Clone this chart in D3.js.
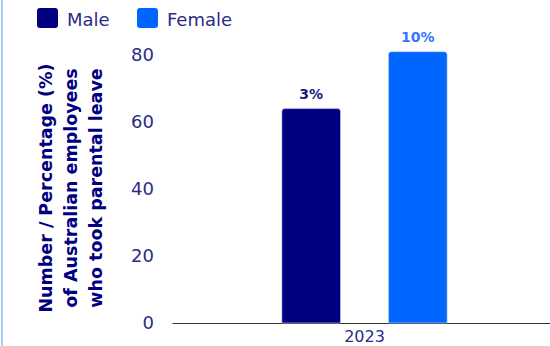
<!DOCTYPE html>
<html><head><meta charset="utf-8">
<script src="https://cdn.jsdelivr.net/npm/d3@7"></script>
<style>body{margin:0;background:#fff;}svg{display:block;}</style>
</head><body>
<svg id="c" width="550" height="346"></svg>
<script>
const categories = ["2023"];
const seriesNames = ["Male", "Female"];
const maleValues = [64];
const femaleValues = [81];
const barLabels = [["3%"], ["10%"]];
const yTicks = [0, 20, 40, 60, 80];
const colors = ["#000080", "#0066ff"];
const titleLines = ["Number / Percentage (%)", "of Australian employees", "who took parental leave"];

const svg = d3.select("#c");
const font = "'DejaVu Sans', sans-serif";

// left accent line
svg.append("line").attr("x1", 2).attr("x2", 2).attr("y1", 0).attr("y2", 346)
  .attr("stroke", "#a9cdfb").attr("stroke-width", 2);

const y = d3.scaleLinear().domain([0, 80]).range([323, 55]);
const x0 = d3.scaleBand().domain(categories).range([172, 557]);
const x1 = d3.scaleBand().domain(seriesNames).range([0, x0.bandwidth()]).paddingInner(0.45).paddingOuter(1.03);

// y ticks (text only)
const yAxis = d3.axisLeft(y).tickValues(yTicks).tickSize(0).tickPadding(0);
const ga = svg.append("g").attr("transform", "translate(154,0)").call(yAxis);
ga.select(".domain").remove();
ga.selectAll("text").attr("font-family", font).attr("font-size", 18).attr("fill", "#2b2b88");

// x axis
const xAxis = d3.axisBottom(x0).tickSize(0).tickPadding(8);
const gx = svg.append("g").attr("transform", "translate(0,323)").call(xAxis);
gx.select(".domain").attr("stroke", "#333").attr("stroke-width", 1.2);
gx.selectAll("text").attr("font-family", font).attr("font-size", 16).attr("fill", "#2b2b88");

// bars
const series = [maleValues, femaleValues];
const r = 3;
function topRounded(xp, yp, w, h) {
  return `M${xp},${yp + h}V${yp + r}Q${xp},${yp} ${xp + r},${yp}H${xp + w - r}Q${xp + w},${yp} ${xp + w},${yp + r}V${yp + h}Z`;
}
seriesNames.forEach((s, si) => {
  categories.forEach((c, ci) => {
    const v = series[si][ci];
    const bx = x0(c) + x1(s);
    const w = x1.bandwidth();
    svg.append("path").attr("d", topRounded(bx, y(v), w, y(0) - y(v)))
      .attr("fill", colors[si]).attr("stroke", "#c9d6f5").attr("stroke-width", 0.6);
    svg.append("text").attr("x", bx + w / 2).attr("y", y(v) - 10)
      .attr("text-anchor", "middle").attr("font-family", font).attr("font-weight", "bold")
      .attr("font-size", 14).attr("fill", si === 0 ? "#1a1a80" : "#3377ff").text(barLabels[si][ci]);
  });
});

// legend
const legendX = [37, 137];
seriesNames.forEach((s, i) => {
  svg.append("rect").attr("x", legendX[i]).attr("y", 8).attr("width", 21).attr("height", 20)
    .attr("rx", 3).attr("fill", colors[i]);
  svg.append("text").attr("x", legendX[i] + 30).attr("y", 26).attr("font-family", font)
    .attr("font-size", 18).attr("fill", "#2b2b88").text(s);
});

// y title
const tg = svg.append("g").attr("transform", "translate(71,188) rotate(-90)");
titleLines.forEach((t, i) => {
  tg.append("text").attr("x", 0).attr("y", (i - 1) * 25 + 6).attr("text-anchor", "middle")
    .attr("font-family", font).attr("font-weight", "bold").attr("font-size", 17.5)
    .attr("fill", "#000080").text(t);
});
</script>
</body></html>
